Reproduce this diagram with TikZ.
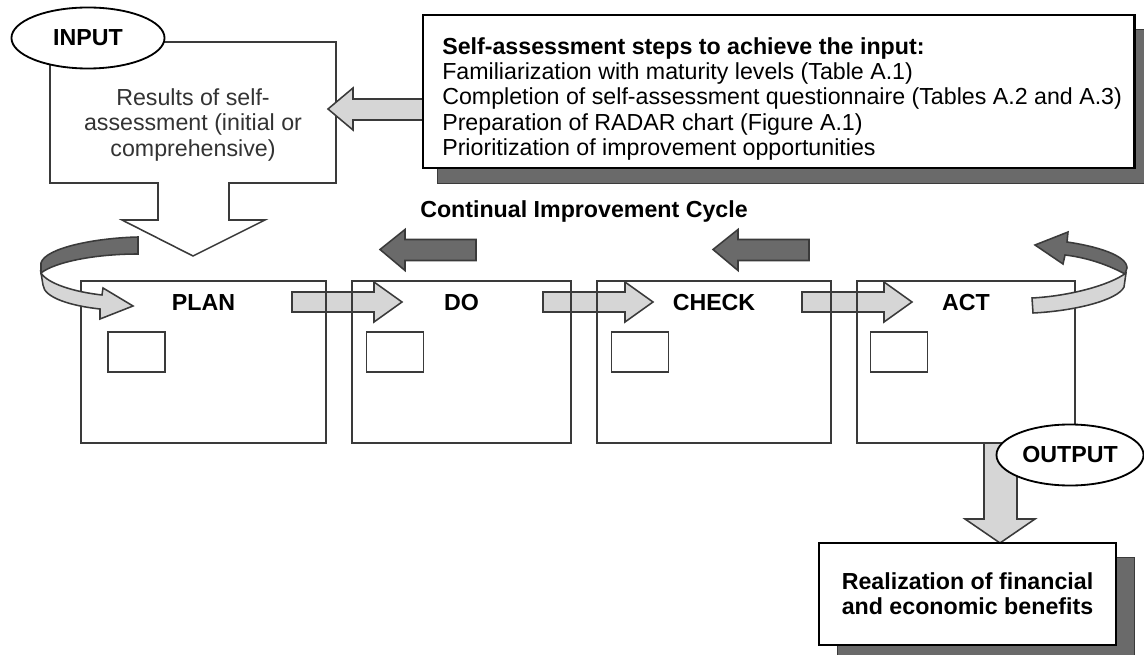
\documentclass[tikz,border=0pt]{standalone}
\usepackage{fontspec}
\setmainfont{Liberation Sans}
\usetikzlibrary{positioning,calc,shapes.geometric}

\definecolor{lightfill}{HTML}{D6D6D6}
\definecolor{darkfill}{HTML}{6A6A6A}
\definecolor{edge}{HTML}{3A3A3A}

\tikzset{
  stage/.style={draw=edge, line width=1.1pt, minimum height=4.05cm, inner sep=0pt},
  smallbox/.style={draw=edge, line width=1.1pt, minimum width=1.425cm, minimum height=1cm, inner sep=0pt},
  lbl/.style={font=\fontsize{16.5}{17.8}\selectfont\bfseries, inner sep=0pt},
  tag/.style={ellipse, draw=black, line width=1.3pt, fill=white, inner sep=0pt, minimum height=1.525cm},
  lightarrow/.style={draw=edge, line width=1.1pt, fill=lightfill, line join=miter},
  darkarrow/.style={draw=edge, line width=1.1pt, fill=darkfill, line join=miter},
  shadow/.style={fill=darkfill, draw=edge, line width=0.6pt}
}

\begin{document}
\begin{tikzpicture}[x=0.025cm, y=-0.025cm, font=\fontsize{16.5}{17.8}\selectfont]
    \clip (0,0) rectangle (1144,655);
    \fill[white] (0,0) rectangle (1144,655);

    % Input box with its arrow
    \draw[draw=edge, line width=1.1pt, fill=white] (50,42) -- (336,42) -- (336,183) -- (229,183)
        -- (229,220) -- (265,220) -- (193,256) -- (122,220) -- (158,220) -- (158,183)
        -- (50,183) -- cycle;
    \node[align=center, text=black!80, inner sep=0pt] (results) at (193,125)
        {Results of self-\\assessment (initial or\\comprehensive)};
    \node[tag, minimum width=3.825cm, lbl] (input) at (88,38) {INPUT};

    % Self-assessment steps
    \draw[shadow] (437,29) rectangle (1150,183);
    \draw[lightarrow] (423,99) -- (353,99) -- (353,88) -- (328,109) -- (353,130) -- (353,120) -- (423,120) -- cycle;
    \node[draw=black, line width=2pt, fill=white, minimum width=17.775cm, minimum height=3.825cm] (steps) at (778.5,91.5) {};
    \node[anchor=west, align=left, inner sep=0pt] (stepstxt) at (442,99)
        {\textbf{Self-assessment steps to achieve the input:}\\
         Familiarization with maturity levels (Table A.1)\\
         Completion of self-assessment questionnaire (Tables A.2 and A.3)\\
         Preparation of RADAR chart (Figure A.1)\\
         Prioritization of improvement opportunities};

    % Cycle title and backward arrows
    \node[lbl] (cycle) at (584,212) {Continual Improvement Cycle};
    \foreach \x in {380,713}
        \draw[darkarrow] (\x,249.5) -- ++(25,-20) -- ++(0,10) -- ++(71,0) -- ++(0,21) -- ++(-71,0) -- ++(0,10) -- cycle;

    % Forward arrows
    \foreach \x in {292,543,802}
        \draw[lightarrow] (\x,292) -- ++(82,0) -- ++(0,-10) -- ++(28,20) -- ++(-28,20) -- ++(0,-10) -- ++(-82,0) -- cycle;
    \draw[lightarrow] (984,443) -- (984,519) -- (965,519) -- (1000,543) -- (1035,519) -- (1017,519) -- (1017,443);

    % Stages
    \foreach \n/\x/\w/\t in {plan/203.5/6.125/PLAN, do/461.5/5.475/DO, check/714/5.85/CHECK, act/966/5.45/ACT}{
        \node[stage, minimum width=\w cm] (\n) at (\x,362) {};
        \node[lbl] (\n lbl) at ([yshift=-0.55cm]\n.north) {\t};
    }
    \foreach \n/\x in {plan/136.5, do/395, check/640, act/899}
        \node[smallbox] (\n sq) at (\x,352) {};

    % Loop arrow, left
    \draw[darkarrow] (138,237) .. controls (95,238) and (45,248) .. (41,263) -- (41,273)
        .. controls (55,262) and (95,254) .. (138,254) -- cycle;
    \draw[lightarrow] (41,273) .. controls (48,284) and (75,292) .. (102,295) -- (103,288) -- (133,306)
        -- (100,319) -- (100,309) .. controls (72,306) and (44,298) .. (43,285) -- cycle;

    % Loop arrow, right
    \draw[darkarrow] (1035,245) -- (1068,232) -- (1067,242) .. controls (1095,246) and (1127,255) .. (1127,268)
        -- (1125,274) .. controls (1110,266) and (1090,258) .. (1065,255) -- (1063,264) -- cycle;
    \draw[lightarrow] (1126,273) .. controls (1110,285) and (1070,296) .. (1032,298) -- (1033,313)
        .. controls (1075,311) and (1118,300) .. (1124,287) -- cycle;

    % Output
    \node[tag, minimum width=3.675cm, lbl] (output) at (1070,455) {OUTPUT};
    \draw[shadow] (837,557) rectangle (1134,665);
    \node[draw=black, line width=1.8pt, fill=white, minimum width=7.425cm, minimum height=2.55cm,
        align=center, lbl] (benefits) at (967.5,594) {Realization of financial\\and economic benefits};
\end{tikzpicture}
\end{document}
